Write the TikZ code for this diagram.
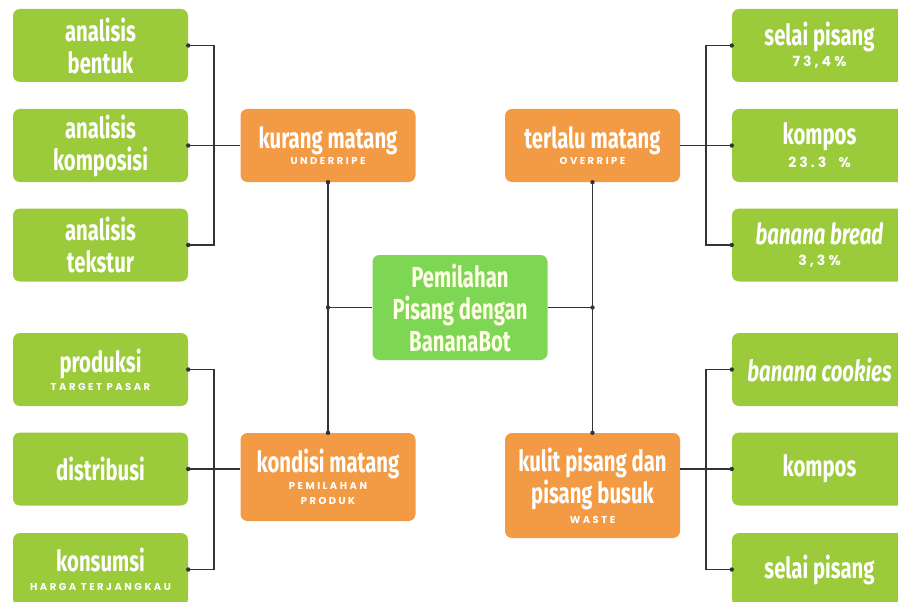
\documentclass[tikz,border=0pt]{standalone}
\usepackage{fontspec}
\newfontfamily\cond{Fira Sans}[FakeStretch=0.7]
\newfontfamily\subf{Poppins}[LetterSpace=25]
\newfontfamily\pctf{Poppins}[LetterSpace=22]
\newcommand\subt[1]{{\subf\bfseries\fontsize{10}{11}\selectfont #1}}
\newcommand\pct[1]{{\pctf\fontsize{14}{16}\selectfont #1}}
\definecolor{lgreen}{HTML}{9BCB3B}
\definecolor{orng}{HTML}{F39A45}
\definecolor{cgreen}{HTML}{7DD654}
\definecolor{linec}{HTML}{333333}
\definecolor{cream}{HTML}{FFFFE6}
\begin{document}
\begin{tikzpicture}[x=1pt,y=-1pt,
  box/.style={rounded corners=7pt, minimum width=175pt, minimum height=73pt, inner sep=0pt,
    align=center, text=white, font=\cond\bfseries\fontsize{29}{32}\selectfont},
  gbox/.style={box, fill=lgreen},
  obox/.style={box, fill=orng},
  cbox/.style={box, fill=cgreen, text=cream, minimum height=105pt},
  conn/.style={draw=linec, line width=1.1pt},
  jdot/.style={fill=linec}]
\useasboundingbox (0,0) rectangle (898,602);
\clip (0,0) rectangle (898,602);
\fill[white] (0,0) rectangle (898,602);
% left green boxes
\node[gbox] (b1) at (100.5,45.5) {analisis\\bentuk};
\node[gbox] (b2) at (100.5,145.5) {analisis\\komposisi};
\node[gbox] (b3) at (100.5,245) {analisis\\tekstur};
\node[gbox] (b4) at (100.5,369.5) {produksi\\[-14pt]\subt{TARGET PASAR}};
\node[gbox] (b5) at (100.5,469) {distribusi};
\node[gbox] (b6) at (100.5,569.5) {konsumsi\\[-13pt]\subt{HARGA TERJANGKAU}};
% right green boxes
\node[gbox] (r1) at (819.5,45.5) {selai pisang\\[-11pt]\pct{73,4\%}};
\node[gbox] (r2) at (819.5,145.5) {kompos\\[-9pt]\pct{23.3 \ \%}};
\node[gbox] (r3) at (819.5,245) {\itshape banana bread\\[-11pt]\pct{3,3\%}};
\node[gbox] (r4) at (819.5,369.5) {\itshape banana cookies};
\node[gbox] (r5) at (819.5,469) {kompos};
\node[gbox] (r6) at (819.5,569.5) {selai pisang};
% orange boxes
\node[obox] (kurang) at (328,145.5) {kurang matang\\[-16pt]\subt{UNDERRIPE}};
\node[obox] (terlalu) at (592.5,145.5) {terlalu matang\\[-16pt]\subt{OVERRIPE}};
\node[obox, minimum height=88pt] (kondisi) at (328,477) {kondisi matang\\[-15pt]\subt{PEMILAHAN}\\[-17pt]\subt{PRODUK}};
\node[obox, minimum height=105pt] (kulit) at (592.5,485.5) {kulit pisang dan\\pisang busuk\\[-12pt]\subt{WASTE}};
% center
\node[cbox] (center) at (460,307.5) {Pemilahan\\Pisang dengan\\BananaBot};
% buses
\coordinate (busL) at (214,0);
\coordinate (busR) at (706,0);
\coordinate (jl) at (kurang.south |- center.west);
\coordinate (jr) at (terlalu.south |- center.east);
% connectors
\draw[conn] (kurang.south) -- (kondisi.north);
\draw[conn] (terlalu.south) -- (kulit.north);
\draw[conn] (jl) -- (center.west);
\draw[conn] (center.east) -- (jr);
\draw[conn] (b1.east) -- (b1.east -| busL) -- (b3.east -| busL) -- (b3.east);
\draw[conn] (b2.east) -- (b2.east -| kurang.west);
\draw[conn] (b4.east) -- (b4.east -| busL) -- (b6.east -| busL) -- (b6.east);
\draw[conn] (b5.east) -- (b5.east -| kondisi.west);
\draw[conn] (r1.west) -- (r1.west -| busR) -- (r3.west -| busR) -- (r3.west);
\draw[conn] (r2.west) -- (r2.west -| terlalu.east);
\draw[conn] (r4.west) -- (r4.west -| busR) -- (r6.west -| busR) -- (r6.west);
\draw[conn] (r5.west) -- (r5.west -| kulit.east);
% dots
\foreach \p in {b1.east,b2.east,b3.east,b4.east,b5.east,b6.east,r1.west,r2.west,r3.west,r4.west,r5.west,r6.west,kurang.south,terlalu.south,kondisi.north,kulit.north,jl,jr}
  \fill[jdot] (\p) circle (2.2pt);
\end{tikzpicture}
\end{document}
